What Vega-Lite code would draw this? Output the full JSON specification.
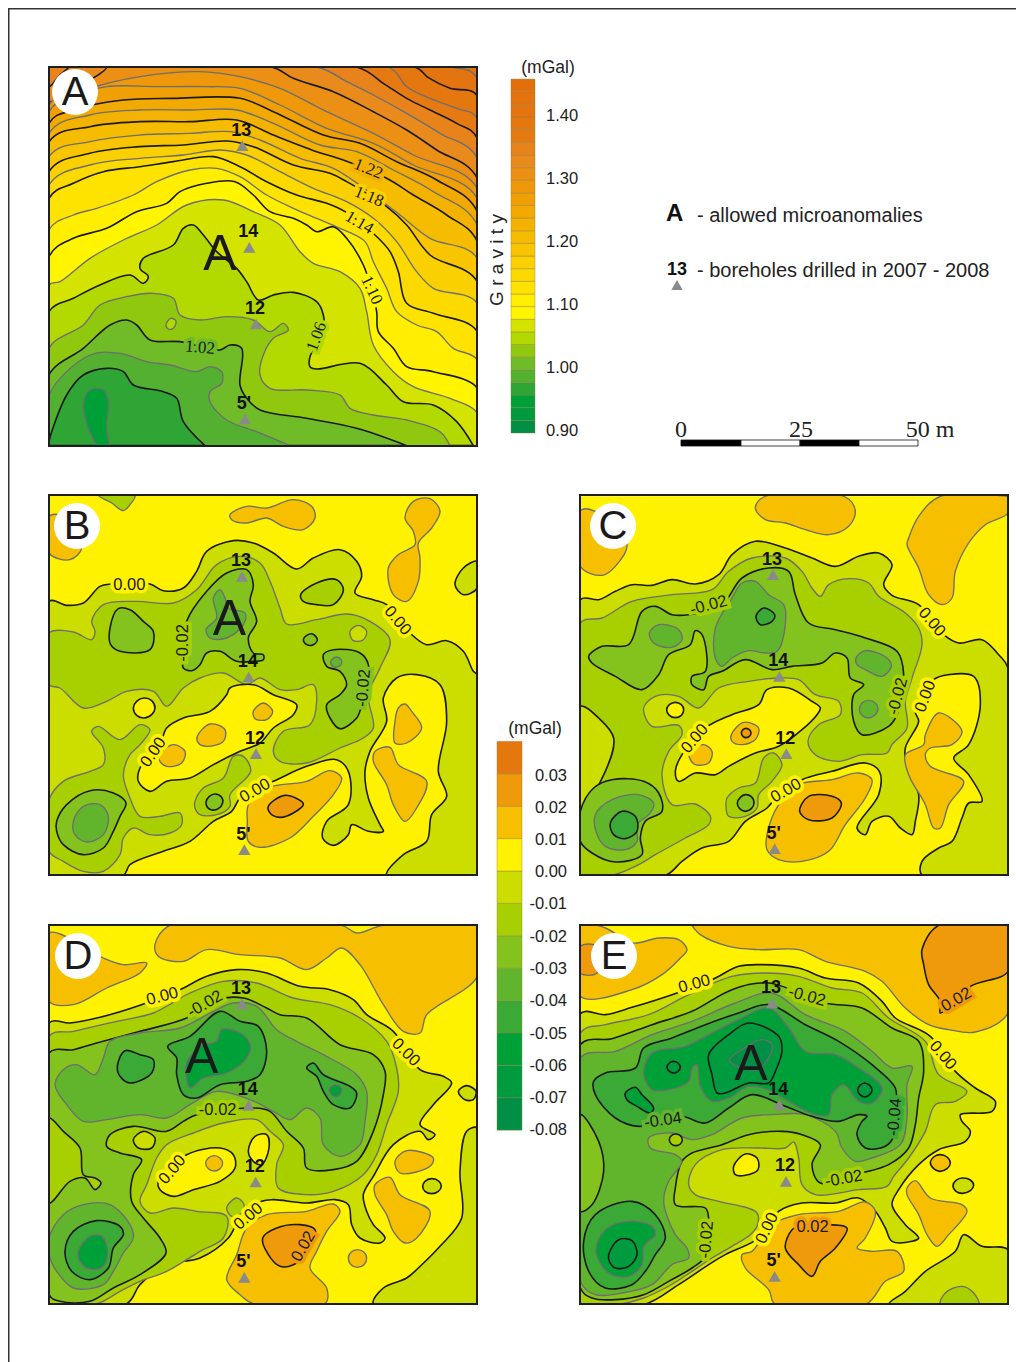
{
"$schema":"https://vega.github.io/schema/vega-lite/v6.json",
"autosize":{"type":"fit","contains":"padding"},"padding":0,"width":1016,"height":1362,"background":"white",
"config":{"view":{"stroke":null}},
"datasets":{
"poly":[
{"map":"A","id":"A00","band":"1.42","kind":"none","pts":[[27,36],[27,36],[1312,36],[1312,36],[1312,1172],[1312,1172],[27,1172],[27,1172]]},
{"map":"A","id":"A01","band":"1.40","kind":"minor","pts":[[1312,70],[1235,36],[27,36],[27,36],[27,1172],[27,1172],[1312,1172],[1312,1172]]},
{"map":"A","id":"A02","band":"1.38","kind":"major","pts":[[1312,122],[1230,100],[1165,68],[1125,36],[27,36],[27,36],[27,1172],[27,1172],[1312,1172],[1312,1172]]},
{"map":"A","id":"A03","band":"1.36","kind":"minor","pts":[[1312,190],[1250,160],[1170,130],[1100,95],[1045,36],[27,36],[27,36],[27,1172],[27,1172],[1312,1172],[1312,1172]]},
{"map":"A","id":"A04","band":"1.34","kind":"major","pts":[[1312,250],[1250,205],[1170,165],[1100,130],[1030,85],[950,36],[27,36],[27,36],[27,1172],[27,1172],[1312,1172],[1312,1172]]},
{"map":"A","id":"A05","band":"1.32","kind":"minor","pts":[[1312,310],[1200,235],[1100,175],[1000,120],[920,80],[830,36],[27,36],[27,36],[27,1172],[27,1172],[1312,1172],[1312,1172]]},
{"map":"A","id":"A06","band":"1.30","kind":"major","pts":[[1312,370],[1190,285],[1100,225],[1000,170],[880,110],[760,70],[695,36],[27,36],[27,36],[27,1172],[27,1172],[1312,1172],[1312,1172]]},
{"map":"A","id":"A07","band":"1.32","kind":"major","pts":[[200,36],[150,75],[100,100],[27,140],[27,36],[27,36]]},
{"map":"A","id":"A08","band":"1.34","kind":"major","pts":[[85,36],[60,60],[27,95],[27,36],[27,36]]},
{"map":"A","id":"A09","band":"1.28","kind":"minor","pts":[[27,150],[150,100],[300,65],[480,50],[600,65],[720,100],[860,170],[1000,235],[1120,300],[1312,400],[1312,1172],[1312,1172],[27,1172],[27,1172]]},
{"map":"A","id":"A10","band":"1.26","kind":"minor","pts":[[27,170],[100,125],[200,95],[350,95],[500,95],[600,100],[720,150],[860,220],[1000,265],[1120,330],[1312,430],[1312,1172],[1312,1172],[27,1172],[27,1172]]},
{"map":"A","id":"A11","band":"1.24","kind":"major","pts":[[27,205],[100,165],[250,135],[400,130],[600,130],[700,170],[850,240],[960,265],[1070,320],[1190,375],[1312,470],[1312,1172],[1312,1172],[27,1172],[27,1172]]},
{"map":"A","id":"A12","band":"1.22","kind":"minor","pts":[[27,235],[150,180],[300,165],[450,165],[590,165],[700,205],[840,270],[950,290],[1060,345],[1180,410],[1312,510],[1312,1172],[1312,1172],[27,1172],[27,1172]]},
{"map":"A","id":"A13","band":"1.20","kind":"major","pts":[[27,260],[150,215],[300,200],[450,200],[590,195],[700,240],[830,290],[910,315],[1040,370],[1120,420],[1220,480],[1312,560],[1312,1172],[1312,1172],[27,1172],[27,1172]]},
{"map":"A","id":"A14","band":"1.18","kind":"minor","pts":[[27,305],[150,260],[300,240],[450,235],[570,230],[660,255],[780,310],[880,340],[1000,420],[1080,480],[1170,550],[1312,610],[1312,1172],[1312,1172],[27,1172],[27,1172]]},
{"map":"A","id":"A15","band":"1.16","kind":"major","pts":[[27,350],[150,295],[300,275],[430,270],[560,258],[640,275],[760,330],[870,355],[920,380],[1040,455],[1100,510],[1170,600],[1312,680],[1312,1172],[1312,1172],[27,1172],[27,1172]]},
{"map":"A","id":"A16","band":"1.14","kind":"minor","pts":[[27,390],[150,330],[300,310],[430,300],[540,285],[620,300],[720,350],[820,400],[920,440],[1000,490],[1070,560],[1130,650],[1180,700],[1312,745],[1312,1172],[1312,1172],[27,1172],[27,1172]]},
{"map":"A","id":"A17","band":"1.12","kind":"major","pts":[[27,430],[100,385],[190,350],[300,335],[400,320],[520,305],[600,335],[680,380],[770,420],[860,445],[915,470],[1005,540],[1050,590],[1075,650],[1100,745],[1180,775],[1312,830],[1312,1172],[1312,1172],[27,1172],[27,1172]]},
{"map":"A","id":"A18","band":"1.10","kind":"minor","pts":[[27,525],[100,480],[170,460],[280,420],[350,380],[450,345],[530,340],[600,365],[680,420],[760,460],[830,490],[900,520],[975,560],[1000,620],[1040,700],[1070,770],[1130,810],[1190,830],[1240,880],[1312,915],[1312,1172],[1312,1172],[27,1172],[27,1172]]},
{"map":"A","id":"A19","band":"1.08","kind":"major","pts":[[27,605],[100,550],[200,520],[290,470],[380,445],[420,410],[500,385],[585,380],[640,420],[690,470],[760,490],[800,510],[830,530],[880,515],[920,550],[970,630],[995,705],[1010,770],[1015,830],[1060,880],[1100,935],[1180,950],[1312,1000],[1312,1172],[1312,1172],[27,1172],[27,1172]]},
{"map":"A","id":"A20","band":"1.06","kind":"minor","pts":[[27,690],[60,680],[150,610],[250,555],[350,510],[440,450],[550,435],[640,470],[720,510],[780,590],[820,625],[900,650],[960,700],[980,770],[1000,870],[1060,950],[1120,995],[1230,1030],[1312,1075],[1312,1172],[1312,1172],[27,1172],[27,1172]]},
{"map":"A","id":"A21","band":"1.04","kind":"major","pts":[[27,770],[100,730],[180,690],[270,660],[310,685],[325,665],[300,640],[310,610],[400,570],[430,520],[460,510],[490,540],[530,590],[590,640],[620,680],[655,735],[700,720],[760,712],[830,740],[850,780],[850,830],[810,905],[810,935],[830,942],[960,925],[1040,990],[1090,1040],[1180,1050],[1250,1100],[1300,1172],[1300,1172],[27,1172],[27,1172]]},
{"map":"A","id":"A22","band":"1.02","kind":"minor","pts":[[27,880],[130,810],[180,750],[260,725],[340,715],[400,730],[420,780],[480,795],[560,785],[640,795],[690,830],[730,805],[745,825],[700,850],[670,900],[660,960],[690,1000],[800,1005],[900,1020],[930,1060],[1000,1080],[1100,1095],[1200,1130],[1230,1172],[1230,1172],[27,1172],[27,1172]]},
{"map":"A","id":"A23","band":"1.04","kind":"minor","pts":[[378,810],[392,790],[408,798],[400,820],[385,822]]},
{"map":"A","id":"A24","band":"1.00","kind":"major","pts":[[27,960],[130,880],[210,810],[260,795],[290,810],[330,855],[420,860],[540,885],[570,870],[605,880],[600,990],[620,1030],[660,1065],[800,1090],[950,1120],[1100,1172],[1100,1172],[27,1172],[27,1172]]},
{"map":"A","id":"A25","band":"0.98","kind":"minor","pts":[[27,1020],[150,900],[240,895],[320,920],[390,930],[470,950],[510,935],[545,950],[545,985],[510,1010],[510,1040],[560,1095],[650,1130],[750,1172],[750,1172],[27,1172],[27,1172]]},
{"map":"A","id":"A26","band":"0.96","kind":"major","pts":[[27,1160],[80,1020],[130,960],[200,940],[250,950],[280,990],[370,1010],[410,1030],[430,1100],[495,1172],[495,1172],[27,1172],[27,1172]]},
{"map":"A","id":"A27","band":"0.94","kind":"minor","pts":[[170,1172],[145,1120],[130,1050],[150,1005],[190,1005],[205,1040],[200,1120],[210,1172],[210,1172],[170,1172]]},

{"map":"B","id":"B00","band":"0.00","kind":"none","pts":[[27,22],[27,22],[1312,22],[1312,22],[1312,1162],[1312,1162],[27,1162],[27,1162]]},
{"map":"B","id":"B01","band":"-0.01","kind":"major","pts":[[27,340],[80,352],[130,345],[180,295],[215,288],[330,288],[370,308],[430,300],[470,250],[500,190],[580,158],[640,165],[700,195],[770,243],[820,210],[900,185],[950,220],[965,265],[945,315],[1000,335],[1040,350],[1110,435],[1160,470],[1220,458],[1270,490],[1300,550],[1312,560],[1312,1162],[1312,1162],[1040,1162],[1090,1100],[1160,1060],[1175,980],[1220,925],[1195,850],[1220,700],[1200,590],[1130,560],[1070,570],[1030,630],[1040,700],[990,790],[975,850],[985,930],[1020,1010],[1030,1030],[985,1030],[935,1010],[925,1040],[880,1072],[848,1050],[860,1000],[925,950],[925,850],[890,815],[800,835],[700,880],[640,905],[600,930],[575,970],[520,1000],[450,1060],[370,1090],[270,1130],[250,1162],[27,1162],[27,1162]]},
{"map":"B","id":"B02","band":"-0.02","kind":"minor","pts":[[175,22],[215,45],[250,68],[270,50],[285,22]]},
{"map":"B","id":"B03","band":"-0.01","kind":"major","pts":[[1312,220],[1270,240],[1245,290],[1270,320],[1312,300]]},
{"map":"B","id":"B04","band":"-0.02","kind":"minor","pts":[[27,435],[100,432],[155,455],[165,430],[155,400],[190,350],[290,340],[400,345],[470,305],[530,230],[600,205],[660,225],[690,280],[720,360],[740,408],[830,395],[920,378],[980,395],[1050,455],[1020,540],[985,620],[1000,720],[970,750],[900,780],[800,825],[720,820],[700,790],[730,730],[810,710],[830,640],[820,590],[770,605],[720,605],[660,570],[620,590],[550,555],[480,570],[430,600],[380,655],[340,610],[260,610],[200,640],[130,660],[60,600],[27,590]]},
{"map":"B","id":"B05","band":"-0.02","kind":"minor","pts":[[155,730],[175,715],[240,755],[300,710],[330,725],[300,770],[270,800],[250,860],[270,930],[300,985],[360,985],[420,975],[425,1010],[390,1035],[330,1040],[280,1020],[250,1050],[240,1100],[190,1150],[130,1150],[70,1120],[27,1090],[27,935],[70,880],[150,850],[190,830],[190,780]]},
{"map":"B","id":"B06","band":"-0.02","kind":"minor","pts":[[465,940],[490,900],[550,870],[580,805],[610,805],[632,850],[570,920],[570,955],[530,980],[480,980],[465,960]]},
{"map":"B","id":"B07","band":"-0.02","kind":"major","pts":[[782,320],[830,285],[890,275],[910,305],[880,350],[830,350],[790,340]]},
{"map":"B","id":"B08","band":"-0.01","kind":"minor","pts":[[930,430],[955,412],[980,430],[970,455],[940,458]]},
{"map":"B","id":"B09","band":"-0.03","kind":"major","pts":[[210,420],[235,362],[270,365],[310,400],[340,430],[330,485],[240,490],[212,470]]},
{"map":"B","id":"B10","band":"-0.03","kind":"major","pts":[[430,540],[430,500],[440,400],[500,310],[560,255],[620,245],[640,290],[630,340],[650,400],[625,450],[640,495],[670,500],[670,515],[640,520],[590,520],[540,490],[500,495],[480,530],[455,548]]},
{"map":"B","id":"B11","band":"-0.03","kind":"major","pts":[[850,500],[880,485],[960,495],[985,530],[965,650],[950,690],[900,722],[870,690],[860,650],[900,620],[920,590],[900,550],[860,535]]},
{"map":"B","id":"B12","band":"-0.03","kind":"major","pts":[[790,455],[800,442],[818,438],[832,455],[820,470],[800,470]]},
{"map":"B","id":"B13","band":"-0.03","kind":"major","pts":[[50,1000],[80,950],[150,908],[220,915],[258,945],[240,985],[220,1030],[190,1080],[130,1100],[70,1070],[50,1030]]},
{"map":"B","id":"B14","band":"-0.03","kind":"major","pts":[[498,942],[508,925],[525,918],[545,928],[548,945],[535,962],[515,966],[502,958]]},
{"map":"B","id":"B15","band":"-0.04","kind":"minor","pts":[[520,330],[540,305],[555,330],[565,360],[615,375],[610,410],[560,450],[510,450],[498,425],[530,390]]},
{"map":"B","id":"B16","band":"-0.04","kind":"minor","pts":[[100,1000],[130,955],[180,950],[205,985],[190,1040],[140,1062],[105,1040]]},
{"map":"B","id":"B17","band":"-0.04","kind":"minor","pts":[[872,522],[878,512],[890,507],[903,514],[905,526],[895,536],[880,536]]},
{"map":"B","id":"B18","band":"0.00","kind":"major","pts":[[570,600],[640,590],[700,620],[770,650],[760,680],[700,720],[660,765],[600,790],[520,830],[450,870],[380,880],[330,910],[295,880],[300,840],[360,770],[380,720],[430,690],[510,670],[560,620]]},
{"map":"B","id":"B19","band":"0.00","kind":"major","pts":[[280,660],[290,640],[312,630],[335,638],[345,660],[335,680],[312,690],[290,682]]},
{"map":"B","id":"B20","band":"0.01","kind":"minor","pts":[[570,80],[620,55],[680,60],[760,35],[815,55],[825,90],[790,125],[730,115],[680,90],[620,105],[575,95]]},
{"map":"B","id":"B21","band":"0.01","kind":"minor","pts":[[1095,90],[1120,40],[1170,32],[1200,70],[1175,120],[1135,165],[1140,210],[1135,280],[1100,340],[1060,320],[1045,240],[1075,200],[1125,170],[1120,130]]},
{"map":"B","id":"B22","band":"0.01","kind":"minor","pts":[[27,85],[70,85],[125,180],[90,215],[27,195]]},
{"map":"B","id":"B23","band":"0.01","kind":"minor","pts":[[1095,648],[1115,670],[1145,720],[1100,765],[1065,765],[1065,700],[1075,660]]},
{"map":"B","id":"B24","band":"0.01","kind":"minor","pts":[[1005,790],[1050,778],[1075,830],[1160,880],[1130,960],[1095,1000],[1060,950],[1040,890],[1000,820]]},
{"map":"B","id":"B25","band":"0.01","kind":"minor","pts":[[625,950],[680,900],[800,880],[870,848],[905,870],[880,920],[820,985],[750,1050],[660,1078],[625,1060],[622,1000]]},
{"map":"B","id":"B26","band":"0.02","kind":"major","pts":[[685,955],[735,922],[790,948],[760,975],[720,988],[690,975]]},
{"map":"B","id":"B27","band":"0.01","kind":"minor","pts":[[640,670],[670,645],[698,670],[680,695],[645,692]]},
{"map":"B","id":"B28","band":"0.01","kind":"minor","pts":[[472,745],[510,708],[555,725],[550,760],[500,775],[475,765]]},
{"map":"B","id":"B29","band":"0.01","kind":"minor","pts":[[358,800],[400,770],[435,790],[425,825],[380,835],[360,820]]},

{"map":"C","id":"C00","band":"0.00","kind":"none","pts":[[25,25],[25,25],[1308,25],[1308,25],[1308,1162],[1308,1162],[25,1162],[25,1162]]},
{"map":"C","id":"C01","band":"-0.01","kind":"major","pts":[[25,335],[80,335],[130,310],[180,290],[240,292],[300,275],[370,288],[440,260],[480,200],[550,160],[640,180],[720,210],[790,235],[860,205],[920,195],[960,230],[935,290],[960,322],[1040,350],[1115,440],[1160,465],[1230,455],[1280,500],[1308,540],[1308,1162],[1308,1162],[1050,1162],[1050,1120],[1100,1080],[1140,1060],[1170,990],[1190,945],[1230,940],[1190,860],[1145,810],[1190,770],[1225,650],[1205,565],[1130,560],[1085,575],[1030,670],[1040,700],[1000,780],[1005,840],[1040,920],[1030,1000],[1020,1040],[985,1020],[950,985],[900,1000],[880,1040],[855,1020],[920,920],[922,850],[880,825],[780,850],[690,875],[620,920],[585,960],[520,1000],[470,1060],[390,1080],[330,1120],[280,1162],[25,1162],[25,1162]]},
{"map":"C","id":"C02","band":"-0.02","kind":"minor","pts":[[25,405],[90,390],[180,340],[300,320],[420,305],[470,250],[540,210],[640,210],[690,250],[720,300],[745,325],[770,290],[830,272],[890,285],[920,325],[1000,375],[1040,420],[1050,470],[1020,570],[1000,640],[1005,720],[960,770],[945,795],[870,800],[800,820],[730,800],[708,760],[740,710],[805,680],[800,640],[730,620],[680,575],[620,570],[530,580],[440,600],[380,660],[320,625],[250,625],[215,660],[240,715],[320,712],[330,740],[290,790],[270,860],[300,950],[370,948],[415,985],[410,1010],[340,1050],[250,1100],[200,1130],[120,1162],[25,1162],[25,1162]]},
{"map":"C","id":"C03","band":"-0.01","kind":"major","pts":[[25,655],[80,690],[125,750],[100,850],[25,965]]},
{"map":"C","id":"C04","band":"-0.02","kind":"minor","pts":[[465,930],[500,900],[550,885],[575,810],[605,795],[630,830],[600,880],[560,920],[555,960],[520,985],[470,985],[462,955]]},
{"map":"C","id":"C05","band":"-0.03","kind":"major","pts":[[50,505],[90,475],[170,470],[210,370],[250,355],[300,380],[350,380],[450,350],[510,270],[590,240],[650,250],[670,320],[710,405],[790,425],[880,450],[975,490],[995,560],[975,680],[950,715],[870,740],[845,700],[845,620],[875,590],[835,570],[825,510],[790,495],[750,525],[660,535],[600,545],[520,515],[450,550],[410,565],[395,605],[360,590],[360,565],[400,550],[390,440],[370,428],[355,470],[290,500],[260,560],[210,605],[130,565],[60,525]]},
{"map":"C","id":"C06","band":"-0.03","kind":"major","pts":[[25,970],[65,900],[120,875],[215,880],[260,915],[270,970],[220,1000],[205,1050],[210,1100],[130,1122],[60,1095],[25,1060]]},
{"map":"C","id":"C07","band":"-0.03","kind":"major","pts":[[496,945],[505,928],[520,920],[538,926],[546,945],[538,962],[520,970],[503,962]]},
{"map":"C","id":"C08","band":"-0.04","kind":"minor","pts":[[430,420],[480,330],[510,285],[550,280],[590,320],[635,350],[640,410],[615,490],[580,495],[530,488],[480,510],[450,535],[430,510]]},
{"map":"C","id":"C09","band":"-0.04","kind":"minor","pts":[[232,435],[260,410],[320,425],[330,455],[300,478],[245,465]]},
{"map":"C","id":"C10","band":"-0.04","kind":"minor","pts":[[852,510],[880,488],[945,510],[958,535],[930,565],[880,545],[855,530]]},
{"map":"C","id":"C11","band":"-0.04","kind":"minor","pts":[[862,665],[870,645],[890,637],[910,645],[918,662],[908,682],[888,690],[870,682]]},
{"map":"C","id":"C12","band":"-0.04","kind":"minor","pts":[[70,980],[120,935],[200,920],[245,945],[235,975],[195,1010],[195,1060],[160,1085],[100,1075],[72,1030]]},
{"map":"C","id":"C13","band":"-0.05","kind":"major","pts":[[552,385],[575,360],[608,380],[600,400],[565,410]]},
{"map":"C","id":"C14","band":"-0.05","kind":"major","pts":[[115,1005],[150,970],[190,985],[195,1030],[160,1052],[125,1040]]},
{"map":"C","id":"C15","band":"0.00","kind":"major","pts":[[585,605],[650,600],[720,640],[745,660],[735,680],[690,725],[620,775],[550,795],[470,835],[430,860],[370,855],[320,880],[310,850],[330,800],[400,720],[480,680],[560,650]]},
{"map":"C","id":"C16","band":"0.00","kind":"major","pts":[[284,665],[292,650],[310,643],[328,650],[335,665],[328,682],[310,689],[292,682]]},
{"map":"C","id":"C17","band":"0.01","kind":"minor","pts":[[550,60],[575,27],[820,27],[850,70],[830,115],[770,140],[700,125],[640,105],[580,95]]},
{"map":"C","id":"C18","band":"0.01","kind":"minor","pts":[[1010,150],[1040,85],[1105,25],[1308,25],[1308,25],[1308,75],[1240,110],[1190,165],[1150,250],[1140,330],[1110,350],[1070,320],[1040,240],[1005,170]]},
{"map":"C","id":"C19","band":"0.01","kind":"minor","pts":[[25,68],[70,70],[165,170],[130,235],[90,262],[25,235]]},
{"map":"C","id":"C20","band":"0.01","kind":"minor","pts":[[1060,740],[1100,675],[1170,730],[1140,770],[1075,780],[1060,800],[1075,835],[1175,880],[1130,950],[1105,1020],[1085,1020],[1060,950],[1010,860],[1000,800],[1055,770]]},
{"map":"C","id":"C21","band":"0.01","kind":"minor","pts":[[352,790],[395,770],[420,790],[410,825],[370,830],[355,815]]},
{"map":"C","id":"C22","band":"0.01","kind":"minor","pts":[[478,740],[515,703],[560,720],[550,755],[510,770],[480,760]]},
{"map":"C","id":"C23","band":"0.02","kind":"major","pts":[[508,735],[513,725],[522,721],[532,725],[537,735],[532,745],[522,749],[513,745]]},
{"map":"C","id":"C24","band":"0.01","kind":"minor","pts":[[585,1040],[620,950],[680,890],[780,875],[860,855],[900,875],[880,930],[820,1010],[770,1090],[690,1120],[620,1115],[585,1085]]},
{"map":"C","id":"C25","band":"0.02","kind":"major","pts":[[683,970],[710,925],[780,925],[808,945],[780,990],[710,995]]},

{"map":"D","id":"D00","band":"0.00","kind":"none","pts":[[27,22],[27,22],[1312,22],[1312,22],[1312,1157],[1312,1157],[27,1157],[27,1157]]},
{"map":"D","id":"D01","band":"-0.01","kind":"major","pts":[[27,315],[90,315],[180,298],[300,262],[420,215],[500,175],[590,155],[680,165],[780,205],[870,215],[940,245],[980,290],[1060,340],[1140,455],[1210,475],[1235,495],[1180,560],[1140,620],[1185,650],[1165,665],[1140,640],[1060,680],[1000,775],[970,830],[980,880],[1000,920],[1035,960],[1020,975],[960,960],[935,920],[925,860],[885,845],[800,855],[700,845],[665,850],[600,900],[565,960],[480,1020],[380,1040],[300,1100],[260,1157],[27,1157],[27,1157]]},
{"map":"D","id":"D02","band":"-0.01","kind":"major","pts":[[1312,630],[1280,640],[1260,760],[1265,900],[1200,985],[1135,1050],[1100,1080],[1030,1110],[1000,1157],[1312,1157],[1312,1157]]},
{"map":"D","id":"D03","band":"-0.01","kind":"major","pts":[[1255,520],[1280,503],[1308,520],[1300,545],[1275,545]]},
{"map":"D","id":"D04","band":"-0.01","kind":"major","pts":[[1148,805],[1155,790],[1175,782],[1197,790],[1204,805],[1195,820],[1175,827],[1155,820]]},
{"map":"D","id":"D05","band":"-0.02","kind":"minor","pts":[[27,355],[100,340],[230,310],[340,285],[450,225],[550,190],[650,195],[760,240],[870,260],[960,300],[1040,370],[1070,450],[1075,520],[1040,620],[1010,710],[970,770],[880,820],[800,830],[715,810],[710,740],[730,680],[690,640],[650,605],[550,615],[460,645],[380,680],[350,720],[320,800],[300,850],[330,885],[400,870],[470,880],[560,895],[550,960],[480,1000],[380,1060],[300,1090],[240,1120],[170,1157],[27,1157],[27,1157]]},
{"map":"D","id":"D06","band":"-0.02","kind":"minor","pts":[[560,870],[590,840],[612,860],[605,885],[575,895]]},
{"map":"D","id":"D07","band":"-0.03","kind":"major","pts":[[27,405],[100,395],[170,375],[300,340],[440,300],[530,245],[610,240],[680,270],[720,290],[800,300],[900,380],[1000,410],[1035,460],[1030,530],[1000,640],[950,730],[880,755],[800,750],[790,690],[740,640],[690,580],[640,570],[470,590],[430,610],[380,640],[280,625],[210,650],[200,685],[240,705],[305,725],[280,770],[275,850],[310,900],[360,960],[378,1005],[300,1070],[220,1110],[150,1150],[60,1150],[27,1130]]},
{"map":"D","id":"D08","band":"-0.02","kind":"major","pts":[[27,600],[70,640],[120,690],[130,770],[165,780],[183,795],[165,815],[135,780],[90,790],[27,855]]},
{"map":"D","id":"D09","band":"-0.01","kind":"major","pts":[[280,665],[310,640],[345,660],[335,690],[295,690]]},
{"map":"D","id":"D10","band":"-0.04","kind":"minor","pts":[[45,500],[70,455],[110,440],[165,470],[190,420],[210,370],[300,345],[420,330],[520,280],[580,255],[650,265],[710,335],[770,370],[850,410],[950,470],[980,520],[975,610],[960,680],[900,715],[850,680],[840,600],[800,570],[750,605],[700,580],[630,545],[530,520],[450,560],[380,600],[300,590],[200,605],[130,610],[80,560]]},
{"map":"D","id":"D11","band":"-0.04","kind":"minor","pts":[[27,960],[70,890],[130,860],[210,860],[270,920],[280,960],[250,1005],[220,1060],[190,1100],[100,1110],[50,1060],[27,1010]]},
{"map":"D","id":"D12","band":"-0.05","kind":"major","pts":[[232,445],[255,398],[300,410],[340,425],[335,465],[270,495],[240,475]]},
{"map":"D","id":"D13","band":"-0.05","kind":"major","pts":[[383,385],[450,355],[540,280],[600,310],[655,325],[680,400],[660,470],[620,490],[540,500],[470,540],[430,530],[410,470],[410,420]]},
{"map":"D","id":"D14","band":"-0.05","kind":"major","pts":[[800,450],[820,435],[850,470],[930,505],[950,525],[930,570],[880,560],[850,520],[830,475]]},
{"map":"D","id":"D15","band":"-0.05","kind":"major","pts":[[75,1000],[100,940],[170,908],[240,925],[250,950],[220,990],[205,1050],[150,1085],[95,1060]]},
{"map":"D","id":"D16","band":"-0.06","kind":"minor","pts":[[438,440],[480,385],[530,370],[545,335],[600,345],[630,380],[620,420],[560,465],[490,480],[450,510],[440,480]]},
{"map":"D","id":"D17","band":"-0.06","kind":"minor","pts":[[868,517],[875,505],[886,500],[899,505],[905,517],[899,530],[886,536],[875,530]]},
{"map":"D","id":"D18","band":"-0.06","kind":"minor","pts":[[115,1000],[150,955],[185,955],[203,1000],[190,1045],[150,1053],[120,1030]]},
{"map":"D","id":"D19","band":"0.00","kind":"major","pts":[[355,790],[385,760],[440,710],[540,690],[580,710],[585,750],[540,790],[460,815],[400,835],[360,815]]},
{"map":"D","id":"D20","band":"0.01","kind":"minor","pts":[[497,735],[505,720],[522,713],[540,720],[548,735],[540,752],[522,759],[505,752]]},
{"map":"D","id":"D21","band":"0.00","kind":"major","pts":[[625,700],[645,655],[680,650],[687,690],[665,740],[640,730]]},
{"map":"D","id":"D22","band":"0.01","kind":"minor","pts":[[390,22],[345,80],[355,115],[430,130],[500,95],[600,110],[720,120],[800,155],[860,120],[905,90],[960,140],[1030,260],[1090,340],[1140,345],[1160,290],[1312,175],[1312,22],[1312,22],[1030,22],[950,45],[905,22]]},
{"map":"D","id":"D23","band":"0.01","kind":"minor","pts":[[27,45],[60,48],[190,120],[250,140],[320,135],[300,165],[200,210],[100,260],[27,250]]},
{"map":"D","id":"D24","band":"0.01","kind":"minor","pts":[[1065,730],[1100,698],[1180,720],[1170,745],[1080,765]]},
{"map":"D","id":"D25","band":"0.01","kind":"minor","pts":[[1005,800],[1050,778],[1080,830],[1170,880],[1130,960],[1095,975],[1060,940],[1040,890],[1005,830]]},
{"map":"D","id":"D26","band":"0.01","kind":"minor","pts":[[925,1020],[933,1003],[952,995],[972,1003],[980,1020],[972,1040],[952,1048],[933,1040]]},
{"map":"D","id":"D27","band":"0.01","kind":"minor","pts":[[560,1085],[590,1010],[620,930],[680,890],[800,880],[880,858],[900,880],[860,940],[830,1000],[810,1050],[860,1110],[855,1157],[640,1157],[600,1130]]},
{"map":"D","id":"D28","band":"0.02","kind":"major","pts":[[668,960],[710,930],[780,920],[825,935],[815,985],[760,1040],[720,1045],[685,1010]]},

{"map":"E","id":"E00","band":"0.00","kind":"none","pts":[[25,20],[25,20],[1308,20],[1308,20],[1308,1160],[1308,1160],[25,1160],[25,1160]]},
{"map":"E","id":"E01","band":"-0.01","kind":"major","pts":[[25,287],[100,290],[180,268],[300,230],[420,185],[500,145],[570,140],[680,150],[760,180],[860,195],[930,250],[970,300],[1075,355],[1150,460],[1210,510],[1270,550],[1260,580],[1165,590],[1170,610],[1195,640],[1180,670],[1100,695],[1040,740],[980,815],[960,860],[1000,920],[1040,960],[1020,970],[960,970],[940,930],[910,880],[860,840],[790,855],[690,855],[620,880],[580,940],[545,970],[460,1010],[410,1040],[320,1100],[215,1160],[25,1160],[25,1160]]},
{"map":"E","id":"E02","band":"-0.01","kind":"major","pts":[[1308,995],[1230,985],[1175,950],[1150,1000],[1060,1060],[1000,1120],[950,1160],[1308,1160],[1308,1160]]},
{"map":"E","id":"E03","band":"-0.01","kind":"major","pts":[[1143,803],[1152,787],[1172,780],[1195,786],[1205,802],[1195,818],[1172,826],[1152,820]]},
{"map":"E","id":"E04","band":"-0.02","kind":"minor","pts":[[1105,1160],[1120,1125],[1170,1105],[1205,1125],[1220,1160]]},
{"map":"E","id":"E05","band":"-0.02","kind":"minor","pts":[[25,345],[100,320],[230,290],[350,230],[480,175],[580,165],[680,175],[780,210],[870,225],[950,300],[1060,370],[1100,470],[1185,520],[1150,550],[1090,560],[1060,640],[1010,720],[965,775],[945,805],[860,815],[730,830],[690,800],[680,720],[665,672],[640,690],[560,690],[450,695],[370,740],[350,800],[370,830],[440,850],[555,885],[555,925],[535,950],[480,985],[420,1020],[330,1080],[280,1110],[215,1140],[130,1160],[25,1160],[25,1160]]},
{"map":"E","id":"E06","band":"-0.03","kind":"major","pts":[[25,380],[120,362],[240,320],[360,280],[480,215],[590,195],[760,255],[870,270],[960,330],[1040,370],[1055,460],[1040,540],[1030,620],[1010,690],[950,740],[870,765],[745,795],[720,740],[745,680],[690,650],[630,640],[530,650],[450,680],[360,705],[330,730],[310,810],[310,860],[400,870],[410,900],[405,1010],[360,1050],[290,1090],[215,1130],[130,1145],[60,1140],[25,1110]]},
{"map":"E","id":"E07","band":"-0.04","kind":"minor","pts":[[25,420],[130,400],[240,350],[360,310],[490,255],[600,225],[700,290],[820,340],[900,400],[960,450],[1020,445],[1005,500],[1005,600],[985,680],[900,720],[850,730],[810,690],[790,640],[700,590],[600,590],[510,600],[420,650],[360,665],[300,645],[230,660],[235,690],[310,710],[330,730],[290,790],[275,850],[310,950],[345,990],[350,1020],[300,1040],[240,1100],[150,1125],[70,1130],[25,1090]]},
{"map":"E","id":"E08","band":"-0.03","kind":"major","pts":[[25,590],[80,670],[95,760],[60,860],[25,880]]},
{"map":"E","id":"E09","band":"-0.02","kind":"major","pts":[[292,665],[298,653],[312,648],[325,653],[331,665],[325,678],[312,683],[298,678]]},
{"map":"E","id":"E10","band":"-0.05","kind":"major","pts":[[65,490],[100,465],[190,450],[215,390],[300,360],[400,320],[500,285],[590,260],[700,320],[800,370],[900,440],[970,510],[972,560],[965,655],[940,685],[880,690],[855,650],[870,610],[885,595],[860,590],[800,610],[720,595],[640,565],[540,530],[470,570],[400,615],[330,595],[270,610],[200,625],[130,600],[70,530]]},
{"map":"E","id":"E11","band":"-0.05","kind":"major","pts":[[35,970],[70,890],[180,850],[250,890],[280,960],[250,1010],[220,1060],[180,1100],[100,1110],[50,1060]]},
{"map":"E","id":"E12","band":"-0.06","kind":"minor","pts":[[215,465],[240,405],[340,385],[420,345],[500,305],[590,270],[650,330],[700,400],[790,410],[860,450],[930,510],[900,555],[860,550],[815,500],[780,530],[770,590],[730,590],[650,550],[600,520],[530,505],[470,540],[420,550],[385,505],[375,440],[360,450],[350,490],[290,515],[240,515]]},
{"map":"E","id":"E13","band":"-0.06","kind":"major","pts":[[160,525],[190,508],[210,530],[245,570],[235,585],[195,565],[165,545]]},
{"map":"E","id":"E14","band":"-0.06","kind":"minor","pts":[[72,1000],[100,935],[170,910],[240,925],[250,950],[215,985],[210,1040],[170,1075],[110,1065]]},
{"map":"E","id":"E15","band":"-0.07","kind":"major","pts":[[410,410],[470,350],[530,315],[620,355],[630,400],[610,460],[590,495],[530,495],[460,525],[435,525],[420,470]]},
{"map":"E","id":"E16","band":"-0.07","kind":"major","pts":[[285,447],[292,435],[305,430],[318,435],[325,447],[318,460],[305,465],[292,460]]},
{"map":"E","id":"E17","band":"-0.07","kind":"major","pts":[[857,515],[864,502],[878,495],[893,502],[900,515],[893,530],[878,537],[864,530]]},
{"map":"E","id":"E18","band":"-0.07","kind":"major","pts":[[110,1010],[140,965],[180,968],[195,1010],[170,1045],[130,1050],[112,1030]]},
{"map":"E","id":"E19","band":"-0.08","kind":"minor","pts":[[472,425],[510,395],[570,365],[600,380],[590,420],[555,455],[510,450],[478,435]]},
{"map":"E","id":"E20","band":"0.00","kind":"major","pts":[[485,745],[520,708],[555,720],[558,755],[520,772],[490,770]]},
{"map":"E","id":"E21","band":"0.01","kind":"major","pts":[[1075,733],[1085,717],[1103,710],[1125,717],[1135,735],[1125,752],[1103,760],[1085,752]]},
{"map":"E","id":"E22","band":"0.01","kind":"minor","pts":[[360,22],[385,50],[470,85],[560,95],[680,95],[760,130],[880,160],[930,190],[1000,270],[1070,320],[1130,335],[1210,342],[1308,285],[1308,20],[1308,20],[360,20]]},
{"map":"E","id":"E23","band":"0.01","kind":"minor","pts":[[25,20],[100,30],[180,75],[260,60],[320,65],[345,95],[320,125],[270,170],[180,215],[25,235]]},
{"map":"E","id":"E24","band":"0.02","kind":"major","pts":[[1050,95],[1100,22],[1308,22],[1308,22],[1308,160],[1195,205],[1105,285],[1105,250],[1070,200],[1055,140]]},
{"map":"E","id":"E25","band":"0.02","kind":"minor","pts":[[25,85],[75,85],[75,165],[25,165]]},
{"map":"E","id":"E26","band":"0.01","kind":"minor","pts":[[1005,810],[1030,788],[1075,840],[1170,860],[1185,880],[1130,950],[1095,985],[1065,950],[1040,890],[1005,830]]},
{"map":"E","id":"E27","band":"0.01","kind":"minor","pts":[[510,1010],[540,1000],[600,920],[680,890],[800,880],[880,852],[910,880],[880,960],[855,990],[900,1000],[975,1000],[995,1060],[940,1090],[880,1160],[610,1160],[590,1115],[520,1050]]},
{"map":"E","id":"E28","band":"0.02","kind":"major","pts":[[640,990],[660,935],[680,925],[770,920],[825,930],[790,990],[745,1030],[720,1075],[680,1040]]}
],
"masks":[
{"X":10,"X2":48.5,"Y":10,"Y2":1362},
{"X":477.5,"X2":579.5,"Y":10,"Y2":1362},
{"X":1008.5,"X2":1016,"Y":10,"Y2":1362},
{"X":477.5,"X2":1016,"Y":10,"Y2":494.5},
{"X":10,"X2":1016,"Y":10,"Y2":66.5},
{"X":10,"X2":1016,"Y":446.5,"Y2":494.5},
{"X":10,"X2":1016,"Y":875.5,"Y2":924.5},
{"X":10,"X2":1016,"Y":1304.5,"Y2":1362}
],
"clabelsA":[
{"map":"A","t":"1.22","lx":985,"ly":342,"rot":22,"band":"1.22"},
{"map":"A","t":"1.18","lx":987,"ly":425,"rot":22,"band":"1.16"},
{"map":"A","t":"1.14","lx":958,"ly":503,"rot":30,"band":"1.12"},
{"map":"A","t":"1.10","lx":995,"ly":705,"rot":65,"band":"1.08"},
{"map":"A","t":"1.06","lx":830,"ly":845,"rot":-70,"band":"1.04"},
{"map":"A","t":"1.02","lx":480,"ly":878,"rot":5,"band":"1.00"}
],
"clabels":[
{"map":"B","t":"0.00","lx":268,"ly":290,"rot":0,"band":"0.00"},
{"map":"B","t":"-0.02","lx":430,"ly":465,"rot":-90,"band":"-0.02"},
{"map":"B","t":"0.00","lx":1073,"ly":398,"rot":50,"band":"0.00"},
{"map":"B","t":"-0.02","lx":970,"ly":600,"rot":-85,"band":"-0.03"},
{"map":"B","t":"0.00","lx":340,"ly":793,"rot":-55,"band":"0.00"},
{"map":"B","t":"0.00","lx":645,"ly":908,"rot":-30,"band":"0.00"},
{"map":"C","t":"-0.02","lx":410,"ly":352,"rot":-15,"band":"-0.02"},
{"map":"C","t":"0.00","lx":1080,"ly":402,"rot":50,"band":"0.00"},
{"map":"C","t":"-0.02","lx":977,"ly":625,"rot":-75,"band":"-0.02"},
{"map":"C","t":"0.00","lx":1060,"ly":625,"rot":-70,"band":"0.00"},
{"map":"C","t":"0.00","lx":368,"ly":752,"rot":-50,"band":"0.00"},
{"map":"C","t":"0.00","lx":642,"ly":908,"rot":-30,"band":"0.00"},
{"map":"D","t":"0.00","lx":367,"ly":235,"rot":-15,"band":"0.00"},
{"map":"D","t":"-0.02","lx":495,"ly":258,"rot":-30,"band":"-0.02"},
{"map":"D","t":"0.00","lx":1098,"ly":403,"rot":45,"band":"0.00"},
{"map":"D","t":"-0.02","lx":533,"ly":577,"rot":0,"band":"-0.02"},
{"map":"D","t":"0.00","lx":397,"ly":755,"rot":-50,"band":"0.00"},
{"map":"D","t":"0.00","lx":625,"ly":895,"rot":-40,"band":"0.00"},
{"map":"D","t":"0.02","lx":790,"ly":985,"rot":-60,"band":"0.02"},
{"map":"E","t":"0.00","lx":367,"ly":198,"rot":-15,"band":"0.00"},
{"map":"E","t":"-0.02","lx":705,"ly":235,"rot":15,"band":"-0.02"},
{"map":"E","t":"0.02","lx":1153,"ly":245,"rot":-30,"band":"0.02"},
{"map":"E","t":"0.00","lx":1113,"ly":412,"rot":50,"band":"0.00"},
{"map":"E","t":"-0.04","lx":273,"ly":607,"rot":-8,"band":"-0.04"},
{"map":"E","t":"-0.04","lx":968,"ly":597,"rot":-85,"band":"-0.05"},
{"map":"E","t":"-0.02","lx":815,"ly":782,"rot":-10,"band":"-0.02"},
{"map":"E","t":"0.00","lx":585,"ly":930,"rot":-65,"band":"0.00"},
{"map":"E","t":"-0.02","lx":403,"ly":965,"rot":-85,"band":"-0.02"},
{"map":"E","t":"0.02","lx":722,"ly":927,"rot":0,"band":"0.02"}
],
"holes":[
{"map":"A","t":"13","lx":607,"ly":272},{"map":"A","t":"14","lx":628,"ly":577},{"map":"A","t":"12","lx":648,"ly":807},{"map":"A","t":"5'","lx":615,"ly":1092},
{"map":"B","t":"13","lx":606,"ly":265},{"map":"B","t":"14","lx":626,"ly":567},{"map":"B","t":"12","lx":648,"ly":797},{"map":"B","t":"5'","lx":613,"ly":1085},
{"map":"C","t":"13","lx":603,"ly":260},{"map":"C","t":"14","lx":622,"ly":565},{"map":"C","t":"12","lx":643,"ly":797},{"map":"C","t":"5'","lx":608,"ly":1082},
{"map":"D","t":"13","lx":606,"ly":258},{"map":"D","t":"14","lx":626,"ly":562},{"map":"D","t":"12","lx":647,"ly":792},{"map":"D","t":"5'","lx":613,"ly":1078},
{"map":"E","t":"13","lx":600,"ly":255},{"map":"E","t":"14","lx":622,"ly":560},{"map":"E","t":"12","lx":642,"ly":790},{"map":"E","t":"5'","lx":608,"ly":1075}
],
"bigA":[{"map":"A","lx":540,"ly":600},{"map":"B","lx":568,"ly":397},{"map":"D","lx":485,"ly":420},{"map":"E","lx":537,"ly":440}],
"badges":[{"t":"A","X":75,"Y":92},{"t":"B","X":77,"Y":526},{"t":"C","X":613,"Y":526},{"t":"D","X":78,"Y":956},{"t":"E","X":614,"Y":956}],
"frames":[{"X":49,"X2":477,"Y":67,"Y2":446},{"X":49,"X2":477,"Y":495,"Y2":875},{"X":580,"X2":1008,"Y":495,"Y2":875},{"X":49,"X2":477,"Y":925,"Y2":1304},{"X":580,"X2":1008,"Y":925,"Y2":1304}],
"border":[{"X":8,"X2":9.5,"Y":8,"Y2":1362},{"X":8,"X2":1016,"Y":8,"Y2":9.5}],
"barA":[{"band":"0.90","lo":0.90},{"band":"0.92","lo":0.92},{"band":"0.94","lo":0.94},{"band":"0.96","lo":0.96},{"band":"0.98","lo":0.98},{"band":"1.00","lo":1.00},{"band":"1.02","lo":1.02},{"band":"1.04","lo":1.04},{"band":"1.06","lo":1.06},{"band":"1.08","lo":1.08},{"band":"1.10","lo":1.10},{"band":"1.12","lo":1.12},{"band":"1.14","lo":1.14},{"band":"1.16","lo":1.16},{"band":"1.18","lo":1.18},{"band":"1.20","lo":1.20},{"band":"1.22","lo":1.22},{"band":"1.24","lo":1.24},{"band":"1.26","lo":1.26},{"band":"1.28","lo":1.28},{"band":"1.30","lo":1.30},{"band":"1.32","lo":1.32},{"band":"1.34","lo":1.34},{"band":"1.36","lo":1.36},{"band":"1.38","lo":1.38},{"band":"1.40","lo":1.40},{"band":"1.42","lo":1.42},{"band":"1.44","lo":1.44}],
"barB":[{"band":"-0.08","lo":-0.08},{"band":"-0.07","lo":-0.07},{"band":"-0.06","lo":-0.06},{"band":"-0.05","lo":-0.05},{"band":"-0.04","lo":-0.04},{"band":"-0.03","lo":-0.03},{"band":"-0.02","lo":-0.02},{"band":"-0.01","lo":-0.01},{"band":"0.00","lo":0.00},{"band":"0.01","lo":0.01},{"band":"0.02","lo":0.02},{"band":"0.03","lo":0.03}],
"ticksA":[{"t":"1.40","X":546,"Y":116},{"t":"1.30","X":546,"Y":179},{"t":"1.20","X":546,"Y":242},{"t":"1.10","X":546,"Y":305},{"t":"1.00","X":546,"Y":368},{"t":"0.90","X":546,"Y":431}],
"ticksB":[{"t":"0.03","X":567,"Y":776},{"t":"0.02","X":567,"Y":808},{"t":"0.01","X":567,"Y":840},{"t":"0.00","X":567,"Y":872},{"t":"-0.01","X":567,"Y":904},{"t":"-0.02","X":567,"Y":937},{"t":"-0.03","X":567,"Y":969},{"t":"-0.04","X":567,"Y":1001},{"t":"-0.05","X":567,"Y":1034},{"t":"-0.06","X":567,"Y":1066},{"t":"-0.07","X":567,"Y":1098},{"t":"-0.08","X":567,"Y":1130}],
"units":[{"t":"(mGal)","X":548,"Y":68},{"t":"(mGal)","X":535,"Y":729}],
"legendText":[{"t":"- allowed microanomalies","X":697,"Y":216},{"t":"- boreholes drilled in 2007 - 2008","X":697,"Y":271}],
"scaleBar":[{"seg":"black","X":681,"X2":741},{"seg":"white","X":741,"X2":800},{"seg":"black","X":800,"X2":859},{"seg":"white","X":859,"X2":918}],
"scaleText":[{"t":"0","X":681,"Y":430},{"t":"25","X":801,"Y":430},{"t":"50 m","X":930,"Y":430}]
},
"encoding":{
"x":{"field":"X","type":"quantitative","axis":null,"scale":{"domain":[0,1016],"nice":false,"zero":false}},
"y":{"field":"Y","type":"quantitative","axis":null,"scale":{"domain":[0,1362],"reverse":true,"nice":false,"zero":false}}
},
"resolve":{"scale":{"stroke":"independent"}},
"layer":[
{"data":{"name":"poly"},
"transform":[{"flatten":["pts"]},
{"calculate":"datum.pts[0]/3+(datum.map=='C'||datum.map=='E'?572:40)","as":"X"},
{"calculate":"datum.pts[1]/3+(datum.map=='A'?55:(datum.map=='B'||datum.map=='C'?488:918))","as":"Y"}],
"mark":{"type":"line","interpolate":"catmull-rom-closed","order":false,"filled":false,"strokeJoin":"round"},
"encoding":{
"detail":{"field":"id"},
"fill":{"field":"band","type":"nominal","legend":null,"scale":{"domain":["0.90","0.92","0.94","0.96","0.98","1.00","1.02","1.04","1.06","1.08","1.10","1.12","1.14","1.16","1.18","1.20","1.22","1.24","1.26","1.28","1.30","1.32","1.34","1.36","1.38","1.40","1.42","1.44","-0.08","-0.07","-0.06","-0.05","-0.04","-0.03","-0.02","-0.01","0.00","0.01","0.02","0.03"],"range":["#008F45","#009A3F","#00A038","#2EA535","#54B030","#70BB28","#90C810","#B2D900","#D4E300","#FFF500","#FFEE00","#FEE300","#FCDA00","#FAD000","#F8C500","#F6BC00","#F4B200","#F2A900","#F0A005","#EE980A","#EB9015","#E98A1C","#E8821A","#E67A12","#E5770F","#E4740F","#E4720E","#E36F0A","#008F45","#009A3F","#00A038","#3BA935","#60B52D","#84C31D","#A8D000","#CCDD00","#FFF200","#F6C000","#EF9A0A","#E5770F"]}},
"stroke":{"field":"kind","type":"nominal","legend":null,"scale":{"domain":["major","minor","none"],"range":["#1a1a1a","#6e6e6e","transparent"]}},
"strokeWidth":{"field":"kind","type":"nominal","legend":null,"scale":{"domain":["major","minor","none"],"range":[1.6,1.1,0]}}
}},
{"data":{"name":"masks"},"mark":{"type":"rect","fill":"white"},"encoding":{"x2":{"field":"X2"},"y2":{"field":"Y2"}}},
{"data":{"name":"clabelsA"},
"transform":[{"calculate":"datum.lx/3+40","as":"X"},{"calculate":"datum.ly/3+55","as":"Y"}],
"mark":{"type":"text","font":"Liberation Serif","fontSize":17,"strokeWidth":7,"baseline":"middle","align":"center"},
"encoding":{"text":{"field":"t"},"angle":{"field":"rot","type":"quantitative","scale":null},
"stroke":{"field":"band","type":"nominal","legend":null,"scale":{"domain":["1.22","1.16","1.12","1.08","1.04","1.00"],"range":["#F4B200","#FAD000","#FEE300","#FFF500","#B2D900","#70BB28"]}},
"fill":{"value":"transparent"}}},
{"data":{"name":"clabelsA"},
"transform":[{"calculate":"datum.lx/3+40","as":"X"},{"calculate":"datum.ly/3+55","as":"Y"}],
"mark":{"type":"text","font":"Liberation Serif","fontSize":17,"color":"#1a1a1a","baseline":"middle","align":"center"},
"encoding":{"text":{"field":"t"},"angle":{"field":"rot","type":"quantitative","scale":null}}},
{"data":{"name":"clabels"},
"transform":[{"calculate":"datum.lx/3+(datum.map=='C'||datum.map=='E'?572:40)","as":"X"},{"calculate":"datum.ly/3+(datum.map=='B'||datum.map=='C'?488:918)","as":"Y"}],
"mark":{"type":"text","font":"Liberation Sans","fontSize":16.5,"strokeWidth":7,"baseline":"middle","align":"center"},
"encoding":{"text":{"field":"t"},"angle":{"field":"rot","type":"quantitative","scale":null},
"stroke":{"field":"band","type":"nominal","legend":null,"scale":{"domain":["-0.05","-0.04","-0.03","-0.02","0.00","0.02"],"range":["#3BA935","#60B52D","#84C31D","#A8D000","#FFF200","#EF9A0A"]}},
"fill":{"value":"transparent"}}},
{"data":{"name":"clabels"},
"transform":[{"calculate":"datum.lx/3+(datum.map=='C'||datum.map=='E'?572:40)","as":"X"},{"calculate":"datum.ly/3+(datum.map=='B'||datum.map=='C'?488:918)","as":"Y"}],
"mark":{"type":"text","font":"Liberation Sans","fontSize":16.5,"color":"#1a1a1a","baseline":"middle","align":"center"},
"encoding":{"text":{"field":"t"},"angle":{"field":"rot","type":"quantitative","scale":null}}},
{"data":{"name":"holes"},
"transform":[{"calculate":"datum.lx/3+(datum.map=='C'||datum.map=='E'?572:40)","as":"X"},{"calculate":"datum.ly/3+(datum.map=='A'?55:(datum.map=='B'||datum.map=='C'?488:918))","as":"Y"}],
"mark":{"type":"point","shape":"triangle-up","filled":true,"size":150,"color":"#8a8a8a","opacity":1,"stroke":null}},
{"data":{"name":"holes"},
"transform":[{"calculate":"datum.lx/3+(datum.map=='C'||datum.map=='E'?572:40)","as":"X"},{"calculate":"datum.ly/3+(datum.map=='A'?55:(datum.map=='B'||datum.map=='C'?488:918))","as":"Y"}],
"mark":{"type":"text","font":"Liberation Sans","fontWeight":"bold","fontSize":18,"color":"#111","dy":-15,"dx":-1,"baseline":"middle","align":"center"},
"encoding":{"text":{"field":"t"}}},
{"data":{"name":"bigA"},
"transform":[{"calculate":"datum.lx/3+(datum.map=='C'||datum.map=='E'?572:40)","as":"X"},{"calculate":"datum.ly/3+(datum.map=='A'?55:(datum.map=='B'||datum.map=='C'?488:918))","as":"Y"}],
"mark":{"type":"text","font":"Liberation Sans","fontSize":50,"color":"#1a1a1a","baseline":"middle","align":"center","text":"A"}},
{"data":{"name":"badges"},"mark":{"type":"point","shape":"circle","filled":true,"size":2116,"color":"white","opacity":1,"stroke":null}},
{"data":{"name":"badges"},"mark":{"type":"text","font":"Liberation Sans","fontSize":40,"color":"#1a1a1a","baseline":"middle","align":"center","dy":1},"encoding":{"text":{"field":"t"}}},
{"data":{"name":"frames"},"mark":{"type":"rect","fill":null,"stroke":"#1f1f1f","strokeWidth":2},"encoding":{"x2":{"field":"X2"},"y2":{"field":"Y2"}}},
{"data":{"name":"border"},"mark":{"type":"rect","fill":"#333"},"encoding":{"x2":{"field":"X2"},"y2":{"field":"Y2"}}},
{"data":{"name":"barA"},
"transform":[{"calculate":"511","as":"X"},{"calculate":"535","as":"X2"},{"calculate":"433-(datum.lo-0.9)*632","as":"Y"},{"calculate":"433-(datum.lo+0.02-0.9)*632","as":"Y2"}],
"mark":{"type":"rect","stroke":"#8a7a40","strokeWidth":0.4},
"encoding":{"x2":{"field":"X2"},"y2":{"field":"Y2"},"fill":{"field":"band","type":"nominal","legend":null}}},
{"data":{"name":"barB"},
"transform":[{"calculate":"497","as":"X"},{"calculate":"522","as":"X2"},{"calculate":"871-datum.lo*3240","as":"Y"},{"calculate":"871-(datum.lo+0.01)*3240","as":"Y2"}],
"mark":{"type":"rect","stroke":"#8a7a40","strokeWidth":0.4},
"encoding":{"x2":{"field":"X2"},"y2":{"field":"Y2"},"fill":{"field":"band","type":"nominal","legend":null}}},
{"data":{"name":"ticksA"},"mark":{"type":"text","font":"Liberation Sans","fontSize":16.5,"color":"#222","align":"left","baseline":"middle"},"encoding":{"text":{"field":"t"}}},
{"data":{"name":"ticksB"},"mark":{"type":"text","font":"Liberation Sans","fontSize":16.5,"color":"#222","align":"right","baseline":"middle"},"encoding":{"text":{"field":"t"}}},
{"data":{"name":"units"},"mark":{"type":"text","font":"Liberation Sans","fontSize":17.5,"color":"#222","align":"center","baseline":"middle"},"encoding":{"text":{"field":"t"}}},
{"data":{"values":[{"t":"G r a v i t y","X":497,"Y":260}]},"mark":{"type":"text","font":"Liberation Sans","fontSize":19,"color":"#222","angle":270,"align":"center","baseline":"middle"},"encoding":{"text":{"field":"t"}}},
{"data":{"values":[{"t":"A","X":666,"Y":214}]},"mark":{"type":"text","font":"Liberation Sans","fontWeight":"bold","fontSize":24,"color":"#111","align":"left","baseline":"middle"},"encoding":{"text":{"field":"t"}}},
{"data":{"values":[{"t":"13","X":677,"Y":270}]},"mark":{"type":"text","font":"Liberation Sans","fontWeight":"bold","fontSize":18,"color":"#111","align":"center","baseline":"middle"},"encoding":{"text":{"field":"t"}}},
{"data":{"values":[{"X":677,"Y":285}]},"mark":{"type":"point","shape":"triangle-up","filled":true,"size":130,"color":"#8a8a8a","opacity":1}},
{"data":{"name":"legendText"},"mark":{"type":"text","font":"Liberation Sans","fontSize":20,"color":"#222","align":"left","baseline":"middle"},"encoding":{"text":{"field":"t"}}},
{"data":{"name":"scaleBar"},"transform":[{"calculate":"440","as":"Y"},{"calculate":"446","as":"Y2"}],"mark":{"type":"rect","stroke":"#111","strokeWidth":0.8},
"encoding":{"x2":{"field":"X2"},"y2":{"field":"Y2"},"fill":{"field":"seg","type":"nominal","legend":null,"scale":null}}},
{"data":{"name":"scaleText"},"mark":{"type":"text","font":"Liberation Serif","fontSize":24,"color":"#222","align":"center","baseline":"middle"},"encoding":{"text":{"field":"t"}}}
]
}
